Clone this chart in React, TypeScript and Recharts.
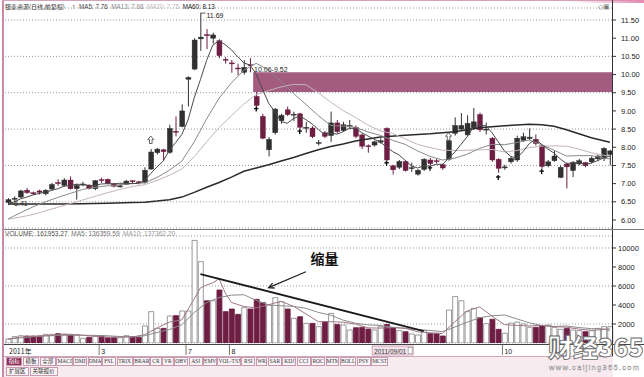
import React from 'react';
import {
  ComposedChart, Bar, Line, XAxis, YAxis, CartesianGrid,
  ReferenceArea, ReferenceLine, ReferenceDot, Cell,
} from 'recharts';

const SANS = '"Liberation Sans", Arial, sans-serif';
const CJK = '"Noto Sans CJK SC", "Liberation Sans", sans-serif';
const DARK = '#303030';
const MAROON = '#6e1d43';

// ---------- data ----------
const opens = [6.48,6.57,6.63,6.82,6.75,6.80,6.72,6.85,7.03,6.95, 7.10,6.86,6.96,6.96,6.86,7.11,7.12,7.00,6.91,6.98,
  7.08,7.05,7.03,7.40,7.85,7.93,7.86,8.44,8.57,9.87, 10.15,10.98,11.10,11.00,10.93,10.42,10.32,10.18,10.06,10.27,
  9.40,8.85,7.93,8.40,8.73,9.03,8.89,8.92,8.53,8.53, 8.11,8.40,8.32,8.67,8.46,8.58,8.55,8.34,8.04,8.06,
  8.14,8.52,7.49,7.45,7.61,7.42,7.26,7.39,7.65,7.63, 7.52,7.67,8.38,8.50,8.34,8.52,8.90,8.48,8.25,7.67,
  7.44,7.60,7.65,8.19,8.24,8.22,8.04,7.49,7.63,7.17, 7.54,7.36,7.54,7.58,7.60,7.68,7.70,7.80];
const highs = [6.60,6.65,6.83,6.88,6.78,6.83,6.85,7.02,7.12,7.15, 7.20,7.00,7.05,6.98,7.10,7.16,7.14,7.02,7.00,7.10,
  7.10,7.08,7.45,7.95,7.98,7.96,8.62,8.85,9.18,9.95, 11.00,11.69,11.25,11.15,10.97,10.48,10.40,10.30,10.40,10.45,
  9.52,8.92,8.28,9.08,8.92,9.12,8.98,8.95,8.70,8.58, 8.20,8.45,8.98,8.75,8.70,8.75,8.60,8.38,8.08,8.18,
  8.25,8.55,7.52,7.65,7.65,7.58,7.40,7.70,7.70,7.68, 7.55,8.20,8.82,8.94,8.88,9.08,8.95,8.68,8.28,7.70,
  7.52,7.75,8.32,8.40,8.52,8.35,8.06,7.65,7.90,7.50, 7.58,7.62,7.68,7.60,7.75,7.80,8.00,7.93];
const lows = [6.41,6.52,6.60,6.72,6.68,6.70,6.68,6.82,6.94,6.92, 6.84,6.56,6.93,6.84,6.82,7.02,6.98,6.90,6.89,6.96,
  7.00,6.98,7.00,7.38,7.80,7.62,7.82,8.30,8.55,9.12, 10.12,10.65,10.70,10.85,10.45,10.30,10.05,9.98,10.00,10.06,
  9.10,8.22,7.75,8.35,8.65,8.86,8.72,8.48,8.40,8.25, 8.05,8.25,8.15,8.38,8.42,8.50,8.25,7.95,7.85,8.02,
  8.10,7.62,7.25,7.40,7.33,7.32,7.22,7.35,7.50,7.55, 7.38,7.63,8.32,8.45,8.30,8.48,8.42,8.35,7.60,7.30,
  7.38,7.55,7.60,8.15,8.20,8.05,7.40,7.45,7.60,7.15, 6.87,7.18,7.50,7.45,7.55,7.62,7.62,7.50];
const closes = [6.56,6.60,6.80,6.75,6.72,6.76,6.82,6.98,7.00,7.10, 6.86,6.95,6.99,6.86,7.08,7.09,7.00,6.93,6.94,7.07,
  7.06,7.03,7.37,7.87,7.95,7.88,8.52,8.42,9.00,9.92, 10.95,11.03,11.07,11.09,10.52,10.40,10.30,10.16,10.20,10.25,
  9.15,8.25,8.22,9.05,8.88,8.90,8.91,8.55,8.55,8.29, 8.13,8.30,8.67,8.43,8.62,8.60,8.30,8.03,8.02,8.15,
  8.18,7.65,7.38,7.61,7.36,7.44,7.37,7.67,7.55,7.61, 7.43,8.18,8.60,8.60,8.66,8.70,8.48,8.50,7.65,7.42,
  7.46,7.70,8.25,8.29,8.28,8.10,7.47,7.60,7.76,7.45, 7.46,7.58,7.63,7.49,7.70,7.76,7.97,7.90];
const volumes = [420,670,770,740,740,740,910,910,980,950, 840,840,490,600,740,740,560,560,560,770,
  670,600,1790,3300,1540,1540,2840,2880,3370,3370, 10800,8560,4450,4450,5580,3300,3580,3020,3720,3580,
  4600,4250,4000,4770,4350,3580,2600,2770,2070,2070, 1720,2250,3120,1960,1890,1370,1610,1650,1470,1370,
  1720,1960,1610,1300,1190,950,840,1300,1020,1020, 740,3470,4900,4450,3300,3650,2670,2030,2500,1440,
  1020,2100,2200,2000,1650,1650,1790,1890,1650,1440, 1540,1370,1300,1190,1300,1540,1720,1720];
const ma5 = [6.45,6.50,6.58,6.63,6.69,6.73,6.77,6.81,6.86,6.93, 6.95,6.98,6.98,6.95,6.95,6.99,7.00,6.99,7.01,7.01,
  7.00,7.01,7.09,7.28,7.46,7.62,7.92,8.13,8.35,8.75, 9.36,9.86,10.39,10.81,10.93,10.82,10.68,10.49,10.32,10.26,
  10.01,9.60,9.21,8.98,8.71,8.66,8.79,8.86,8.76,8.64, 8.49,8.36,8.39,8.36,8.43,8.52,8.52,8.40,8.31,8.22,
  8.14,8.01,7.88,7.79,7.64,7.49,7.43,7.49,7.48,7.53, 7.53,7.69,7.87,8.08,8.29,8.55,8.61,8.59,8.40,8.15,
  7.90,7.75,7.70,7.88,8.10,8.22,8.08,7.95,7.84,7.68, 7.55,7.57,7.58,7.52,7.57,7.63,7.71,7.76];
const ma13Pts: [number, number][] = [[0,6.03],[2,6.20],[4,6.36],[6,6.50],[8,6.62],[10,6.73],[12,6.84],[14,6.90],
  [16,6.94],[18,6.97],[20,7.00],[22,7.02],[24,7.17],[26,7.37],[28,7.62],[30,8.15],[32,8.78],[34,9.35],[36,9.77],
  [38,10.12],[40,10.31],[42,10.12],[44,9.81],[46,9.48],[48,9.18],[50,8.87],[52,8.60],[54,8.58],[56,8.55],[58,8.42],
  [60,8.33],[62,8.19],[64,8.08],[66,7.90],[68,7.75],[70,7.65],[72,7.70],[74,7.81],[76,7.97],[78,8.08],[80,8.07],
  [82,8.13],[84,8.20],[86,8.07],[88,7.92],[90,7.76],[92,7.77],[94,7.77],[96,7.71],[97,7.68]];
const ma20Pts: [number, number][] = [[0,6.02],[2,6.08],[4,6.15],[6,6.25],[8,6.35],[10,6.45],[12,6.55],[14,6.65],
  [16,6.75],[18,6.84],[20,6.92],[22,6.97],[24,7.09],[26,7.23],[28,7.40],[30,7.74],[32,8.15],[34,8.54],[36,8.87],
  [38,9.19],[40,9.45],[42,9.56],[44,9.66],[46,9.73],[48,9.72],[50,9.50],[52,9.24],[54,9.01],[56,8.82],[58,8.61],
  [60,8.45],[62,8.38],[64,8.23],[66,8.08],[68,7.99],[70,7.92],[72,7.91],[74,7.92],[76,7.93],[78,7.94],[80,7.87],
  [82,7.91],[84,7.99],[86,8.03],[88,8.04],[90,8.03],[92,7.95],[94,7.85],[96,7.78],[97,7.75]];
const ma60Pts: [number, number][] = [[0,6.44],[4,6.44],[8,6.44],[12,6.45],[16,6.46],[20,6.48],[22,6.49],[24,6.52],
  [26,6.56],[28,6.63],[30,6.76],[32,6.90],[34,7.03],[36,7.18],[38,7.34],[40,7.43],[42,7.52],[44,7.62],[46,7.72],
  [48,7.83],[50,7.93],[52,8.02],[54,8.09],[56,8.17],[58,8.23],[60,8.28],[64,8.33],[68,8.37],[72,8.43],[76,8.54],
  [80,8.59],[84,8.63],[86,8.62],[88,8.58],[90,8.48],[92,8.37],[94,8.26],[96,8.18],[97,8.14]];
const vma5Pts: [number, number][] = [[0,420],[2,620],[4,668],[6,780],[8,856],[10,918],[12,820],[14,702],[16,626],
  [18,632],[20,624],[22,878],[24,1580],[26,2202],[28,2434],[30,4652],[31,5796],[32,6110],[33,6326],[34,6768],
  [35,5268],[36,4272],[38,3840],[40,3700],[42,4030],[44,4394],[46,3860],[48,3074],[50,2246],[52,2246],[54,2188],
  [56,1990],[58,1598],[60,1564],[62,1626],[64,1556],[66,1178],[68,1060],[70,984],[72,2230],[74,3372],[76,3794],
  [78,2830],[80,1932],[82,1852],[84,1794],[86,1858],[88,1726],[90,1662],[92,1460],[94,1340],[96,1410],[97,1494]];
const vma10Pts: [number, number][] = [[0,420],[4,668],[8,800],[10,825],[12,814],[14,800],[16,765],[18,688],[20,653],
  [22,759],[24,1109],[26,1417],[28,1930],[30,3203],[32,4265],[34,4784],[36,5034],[38,5083],[40,4484],[42,4008],
  [44,3917],[46,3847],[48,3657],[50,3218],[52,2930],[54,2403],[56,2083],[58,1911],[60,1841],[62,1661],[64,1525],
  [66,1406],[68,1326],[70,1193],[72,1673],[74,2199],[76,2652],[78,2873],[80,2943],[82,2536],[84,2126],[86,1838],
  [88,1739],[90,1791],[92,1628],[94,1512],[96,1494],[97,1312]];

const priceTicks = [6, 6.5, 7, 7.5, 8, 8.5, 9, 9.5, 10, 10.5, 11, 11.5];
const volTicks = [2000, 4000, 6000, 8000, 10000];
const dateTicks = [0, 15, 29, 36, 59, 80];
const dateLabels = ['2011年', '3', '7', '8', '2011/09/01', '10'];
const buySignals: [number, number][] = [[23, 8.20], [71, 8.29]];
const markSignals: [number, number][] = [[40, 9.05], [47, 8.43], [61, 7.56], [68, 7.42], [79, 7.17], [86, 7.33]];
const gap = { from: 40, to: 97, low: highs[40], high: lows[39] };
const trendSeg = [{ x: 31, y: 7260 }, { x: 67, y: 1260 }];
const arrowSeg = [{ x: 48, y: 7500 }, { x: 42, y: 5820 }];
const tabLabels = ['指标','模板','全部','MACD','DMI','DMA','FSL','TRIX','BRAR','CR','VR','OBV','ASI','EMV',
  'VOL-TSX','RSI','WR','SAR','KDJ','CCI','ROC','MTM','BOLL','PSY','MCST'];
const priceHeader = [
  { t: 'MA5: 7.76', c: '#444' },
  { t: 'MA13: 7.68', c: '#8a8a8a' },
  { t: 'MA20: 7.75', c: '#bdbdbd' },
  { t: 'MA60: 8.13', c: '#222' },
];
const volHeader = [
  { t: 'VOLUME: 161953.27', c: '#555' },
  { t: 'MA5: 136359.59', c: '#777' },
  { t: 'MA10: 137362.20', c: '#999' },
];

const N = closes.length;
const sparse = (pts: [number, number][]) => {
  const a: (number | null)[] = new Array(N).fill(null);
  pts.forEach(([i, v]) => { a[i] = v; });
  return a;
};
const ma13 = sparse(ma13Pts), ma20 = sparse(ma20Pts), ma60 = sparse(ma60Pts);
const vma5 = sparse(vma5Pts), vma10 = sparse(vma10Pts);
const rows = closes.map((c, i) => ({
  i, o: opens[i], h: highs[i], l: lows[i], c, v: volumes[i],
  ma5: ma5[i], ma13: ma13[i], ma20: ma20[i], ma60: ma60[i], vma5: vma5[i], vma10: vma10[i],
}));

// ---------- shapes ----------
const Candle = (props: any) => {
  const { x, y, width, height, payload } = props;
  if (x == null || y == null || !payload) return null;
  const top = Math.min(y, y + height);
  const hgt = Math.abs(height);
  const { o, h, l, c } = payload;
  const ppu = hgt / (h - l || 1);
  const cx = x + width / 2;
  const yO = top + (h - o) * ppu;
  const yC = top + (h - c) * ppu;
  const color = c >= o ? DARK : MAROON;
  const bt = Math.min(yO, yC);
  const bh = Math.max(Math.abs(yO - yC), 1);
  return (
    <g>
      <line x1={cx} x2={cx} y1={top} y2={top + hgt} stroke={color} strokeWidth={1} />
      <rect x={x} y={bt} width={width} height={bh} fill={color} stroke={color} strokeWidth={0.4} />
    </g>
  );
};

const HollowArrow = (p: any) => {
  const { cx, cy } = p;
  const pts = [[0,-4],[3,-0.5],[1.3,-0.5],[1.3,3.5],[-1.3,3.5],[-1.3,-0.5],[-3,-0.5]]
    .map(([dx, dy]) => `${cx + dx},${cy + dy}`).join(' ');
  return <polygon points={pts} fill="#fff" stroke="#444" strokeWidth={0.8} />;
};
const BlackMark = (p: any) => {
  const { cx, cy } = p;
  return (
    <g stroke="#111" strokeWidth={1.4}>
      <line x1={cx - 2.2} x2={cx + 2.2} y1={cy - 0.5} y2={cy - 0.5} />
      <line x1={cx} x2={cx} y1={cy - 2.5} y2={cy + 2.5} />
    </g>
  );
};
const textShape = (txt: string, dx: number, dy: number, tick?: [number, number, number]) => (p: any) => (
  <g>
    {tick && <line x1={p.cx + tick[0]} x2={p.cx + tick[1]} y1={p.cy + tick[2]} y2={p.cy + tick[2]} stroke="#333" strokeWidth={0.8} />}
    <text x={p.cx + dx} y={p.cy + dy} fontSize={7} fill="#222" fontFamily={SANS}>{txt}</text>
  </g>
);
const ArrowLine = (p: any) => {
  const { x1, y1, x2, y2 } = p;
  if ([x1, y1, x2, y2].some((v) => v == null || isNaN(v))) return null;
  const ang = Math.atan2(y2 - y1, x2 - x1);
  const L = 6, A = 0.45;
  const a1x = x2 - L * Math.cos(ang - A), a1y = y2 - L * Math.sin(ang - A);
  const a2x = x2 - L * Math.cos(ang + A), a2y = y2 - L * Math.sin(ang + A);
  return (
    <g stroke="#222" strokeWidth={1.3} fill="none">
      <line x1={x1} y1={y1} x2={x2} y2={y2} />
      <polyline points={`${a1x},${a1y} ${x2},${y2} ${a2x},${a2y}`} />
    </g>
  );
};
const DateTick = (props: any) => {
  const { x, y, payload } = props;
  const k = dateTicks.indexOf(payload.value);
  const t = dateLabels[k];
  if (k < 0) return null;
  if (k === 0) return <text x={x + 1} y={y + 11} fontSize={7} fill="#222" fontFamily={CJK}>{t}</text>;
  if (t.includes('/')) {
    return (
      <g>
        <rect x={x - 2} y={y + 3} width={41} height={9} fill="#f3e3ea" stroke="#b07090" strokeWidth={0.6} />
        <text x={x} y={y + 10.5} fontSize={6.5} fill="#333" fontFamily={SANS}>{t}</text>
        <rect x={x + 34} y={y + 4.5} width={4} height={6} fill="#fff" stroke="#777" strokeWidth={0.5} />
      </g>
    );
  }
  return (
    <g>
      <line x1={x - 2} x2={x - 2} y1={y + 2} y2={y + 12} stroke="#555" strokeWidth={0.8} />
      <text x={x} y={y + 11} fontSize={7} fill="#222" fontFamily={SANS}>{t}</text>
    </g>
  );
};

const T = (p: { x: number; y: number; c?: string; s?: number; f?: string; children: React.ReactNode; w?: number }) => (
  <div style={{ position: 'absolute', left: p.x, top: p.y, color: p.c || '#333', fontSize: p.s || 7,
    fontFamily: p.f || SANS, lineHeight: 1, whiteSpace: 'nowrap', fontWeight: p.w || 400 }}>{p.children}</div>
);
const Box = (p: { x: number; y: number; w: number; h: number; bg: string }) => (
  <div style={{ position: 'absolute', left: p.x, top: p.y, width: p.w, height: p.h, background: p.bg }} />
);

const tabUnits = tabLabels.map((t) => t.split('').reduce((s, ch) => s + (ch.charCodeAt(0) > 255 ? 2 : 1), 0) + 2);

export default function App() {
  return (
    <div style={{ position: 'absolute', left: 0, top: 0, width: 644, height: 377, background: '#fff',
      overflow: 'hidden', fontFamily: SANS }}>
      {/* price panel */}
      <div style={{ position: 'absolute', left: 0, top: 0 }}>
        <ComposedChart width={644} height={232} data={rows} margin={{ top: 8, right: 0, left: 5, bottom: 4 }}>
          <CartesianGrid vertical={false} stroke="#9a9a9a" strokeDasharray="1 2" />
          <XAxis dataKey="i" hide />
          <YAxis orientation="right" domain={[5.78, 11.83]} allowDataOverflow ticks={priceTicks}
            tickFormatter={(v: number) => v.toFixed(2)} width={31} axisLine={false}
            tickLine={{ stroke: '#333' }} tickSize={3} tickMargin={5}
            tick={{ fontSize: 7.5, fill: '#222', fontFamily: SANS }} />
          <ReferenceArea x1={gap.from} x2={gap.to} y1={gap.low} y2={gap.high} fill="#a35b7f" fillOpacity={1} stroke="none" />
          <Line dataKey="ma60" stroke="#2a2a2a" strokeWidth={1.5} dot={false} connectNulls isAnimationActive={false} />
          <Line dataKey="ma20" stroke="#c4b4bc" strokeWidth={1} dot={false} connectNulls isAnimationActive={false} />
          <Line dataKey="ma13" stroke="#8a8a8a" strokeWidth={1} dot={false} connectNulls isAnimationActive={false} />
          <Line dataKey="ma5" stroke="#4a4a4a" strokeWidth={1} dot={false} connectNulls isAnimationActive={false} />
          <Bar dataKey={(d: any) => [d.l, d.h]} barSize={5} shape={Candle} isAnimationActive={false} />
          {buySignals.map(([i, v]) => (
            <ReferenceDot key={'b' + i} x={i} y={v} r={0} ifOverflow="visible" shape={HollowArrow} />
          ))}
          {markSignals.map(([i, v]) => (
            <ReferenceDot key={'m' + i} x={i} y={v} r={0} ifOverflow="visible" shape={BlackMark} />
          ))}
          <ReferenceDot x={31} y={highs[31]} r={0} ifOverflow="visible"
            shape={textShape(highs[31].toFixed(2), 6, 5, [0, 5, 0])} />
          <ReferenceDot x={39} y={lows[39]} r={0} ifOverflow="visible"
            shape={textShape(`${lows[39].toFixed(2)}-${highs[40].toFixed(2)}`, 4, 0)} />
          <ReferenceDot x={0} y={lows[0]} r={0} ifOverflow="visible"
            shape={textShape(lows[0].toFixed(2), 6, 0.5, [2, 5, -2])} />
        </ComposedChart>
      </div>

      {/* volume panel */}
      <div style={{ position: 'absolute', left: 0, top: 229 }}>
        <ComposedChart width={644} height={127} data={rows} margin={{ top: 7, right: 0, left: 5, bottom: 1 }}>
          <CartesianGrid vertical={false} stroke="#9a9a9a" strokeDasharray="1 2" />
          <XAxis dataKey="i" ticks={dateTicks} interval={0} axisLine={false} tickLine={false}
            tickSize={0} tickMargin={0} height={12} tick={DateTick} />
          <YAxis orientation="right" domain={[0, 11263]} allowDataOverflow ticks={volTicks} width={31}
            axisLine={false} tickLine={{ stroke: '#333' }} tickSize={3} tickMargin={2}
            tick={{ fontSize: 7.5, fill: '#222', fontFamily: SANS }} />
          <Bar dataKey="v" barSize={5} isAnimationActive={false}>
            {rows.map((r) => (
              <Cell key={r.i} fill={r.c >= r.o ? '#ffffff' : MAROON}
                stroke={r.c >= r.o ? '#808080' : MAROON} strokeWidth={0.8} />
            ))}
          </Bar>
          <Line dataKey="vma10" stroke="#8c8c8c" strokeWidth={1} dot={false} connectNulls isAnimationActive={false} />
          <Line dataKey="vma5" stroke="#a07888" strokeWidth={1} dot={false} connectNulls isAnimationActive={false} />
          <ReferenceLine segment={trendSeg} stroke="#1a1a1a" strokeWidth={1.8} ifOverflow="visible" />
          <ReferenceLine segment={arrowSeg} stroke="#222" ifOverflow="visible" shape={ArrowLine} />
          <ReferenceDot x={51} y={8840} r={0} ifOverflow="visible"
            shape={(p: any) => (
              <text x={p.cx} y={p.cy + 5} textAnchor="middle" fontSize={14} fontWeight={700}
                fill="#111" fontFamily={CJK}>缩量</text>
            )} />
        </ComposedChart>
      </div>

      {/* frame lines */}
      <Box x={2} y={0} w={2} h={377} bg="#c98aa8" />
      <Box x={2} y={0} w={642} h={1} bg="#d2a2b8" />
      <div style={{ position: 'absolute', left: 570, top: 0, width: 74, height: 3,
        background: 'linear-gradient(90deg, rgba(230,150,190,0), #e48ab4)' }} />
      <Box x={612} y={0} w={1} h={377} bg="#333" />
      <Box x={4} y={229} w={640} h={1} bg="#7a7a7a" />
      <Box x={4} y={344} w={640} h={1} bg="#444" />

      {/* header */}
      <T x={5} y={3.5} c="#333" f={CJK} s={6}>银泰资源(日线,前复权)</T>
      <T x={72} y={2.5} c="#111" s={7} w={700}>↑</T>
      <div style={{ position: 'absolute', left: 79, top: 3.5, display: 'flex', gap: 3.5, fontSize: 6.3,
        lineHeight: 1, whiteSpace: 'nowrap', fontFamily: SANS }}>
        {priceHeader.map((h) => <span key={h.t} style={{ color: h.c }}>{h.t}</span>)}
      </div>
      <T x={598} y={3} c="#777" s={7}>◇▣</T>
      <div style={{ position: 'absolute', left: 5, top: 231, display: 'flex', gap: 3.5, fontSize: 6.6,
        lineHeight: 1, whiteSpace: 'nowrap', fontFamily: SANS }}>
        {volHeader.map((h) => <span key={h.t} style={{ color: h.c }}>{h.t}</span>)}
      </div>

      {/* tabs row */}
      <div style={{ position: 'absolute', left: 4, top: 356, width: 640, height: 21, background: '#f7ebf0',
        borderTop: '1px solid #cfa6ba' }} />
      <div style={{ position: 'absolute', left: 6, top: 357, width: 382, height: 9, display: 'flex' }}>
        {tabLabels.map((t, k) => (
          <div key={t} style={{ flex: `${tabUnits[k]} 1 0`, border: '1px solid #c79ab0', marginRight: 0.5,
            background: k === 0 ? '#8d2f5b' : '#fbf4f7', color: k === 0 ? '#fff' : '#333', fontSize: 5.5,
            fontFamily: /[^\x00-\xff]/.test(t) ? CJK : '"Liberation Serif", serif', lineHeight: '7px',
            textAlign: 'center', overflow: 'hidden', whiteSpace: 'nowrap' }}>{t}</div>
        ))}
      </div>
      <div style={{ position: 'absolute', left: 6, top: 367, height: 9, display: 'flex' }}>
        {['扩展区', '关联报价'].map((t) => (
          <div key={t} style={{ border: '1px solid #c79ab0', background: '#fbf4f7', color: '#333', fontSize: 5.5,
            fontFamily: CJK, lineHeight: '7px', padding: '0 2px', marginRight: 1 }}>{t}</div>
        ))}
      </div>
      <Box x={613} y={345} w={31} h={32} bg="#fff" />

      {/* watermark */}
      <svg style={{ position: 'absolute', left: 540, top: 328 }} width={104} height={49}>
        <text x={8} y={29} fontSize={25} fontWeight={900} fill="#ffffff" stroke="#6a6a6a" strokeWidth={0.9}
          fontFamily={CJK}>财经365</text>
        <text x={9} y={42} fontSize={7.5} fill="#ffffff" stroke="#8a8a8a" strokeWidth={0.35}
          letterSpacing={1.3} fontFamily={SANS}>www.caijing365.com</text>
      </svg>
    </div>
  );
}
